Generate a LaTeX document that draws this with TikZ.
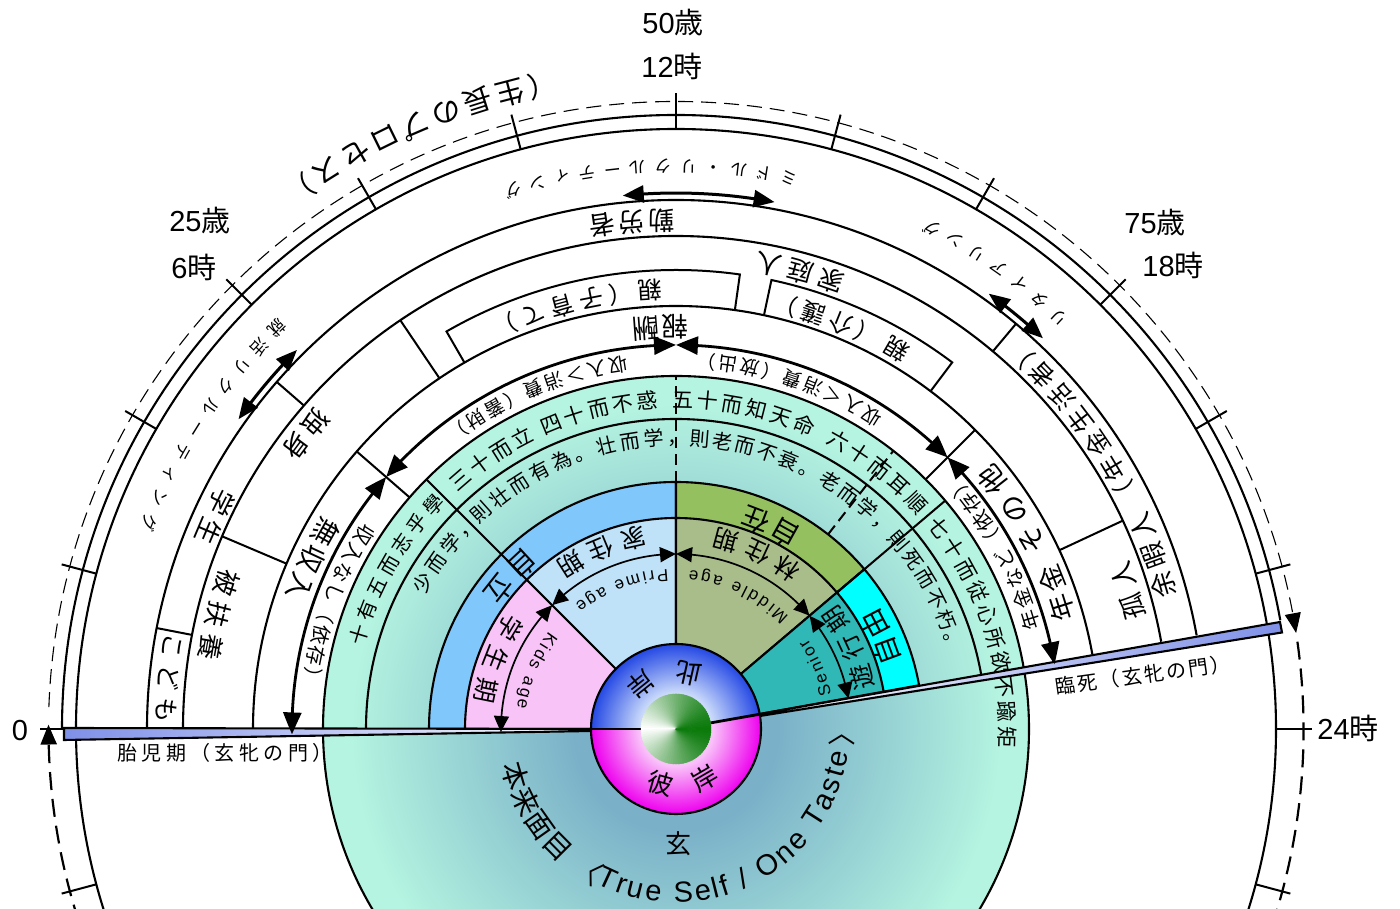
\documentclass[tikz,border=0pt]{standalone}
\usepackage{fontspec}
\usetikzlibrary{arrows.meta,bending}
\setmainfont{Liberation Sans}
\newfontfamily\la{Liberation Sans}
\newfontfamily\cj{Noto Sans CJK JP}
\definecolor{tealA}{HTML}{7AB0C8}
\definecolor{tealB}{HTML}{B4F4E0}
\definecolor{pinkS}{HTML}{F8C4F8}
\definecolor{skyS}{HTML}{BFE2F8}
\definecolor{oliveS}{HTML}{A9BD8B}
\definecolor{tealS}{HTML}{2FB8B6}
\definecolor{blueR}{HTML}{80C8FB}
\definecolor{greenR}{HTML}{95C05F}
\definecolor{cyanR}{HTML}{00FFFF}
\definecolor{gateB}{HTML}{7F90E8}
\definecolor{discB}{HTML}{2448E4}
\definecolor{discBi}{HTML}{C8D8FA}
\definecolor{discM}{HTML}{EE00EE}
\definecolor{discMi}{HTML}{F9C0F9}
\definecolor{ballG}{HTML}{0A7A0A}
\pgfdeclareradialshading{tealdisc}{\pgfpointorigin}{color(0bp)=(tealA); color(7bp)=(tealA); color(23bp)=(tealB); color(50bp)=(tealB)}
\pgfdeclareradialshading{blueball}{\pgfpointorigin}{color(0bp)=(white); color(11bp)=(discBi); color(25bp)=(discB); color(50bp)=(discB)}
\pgfdeclareradialshading{magball}{\pgfpointorigin}{color(0bp)=(white); color(11bp)=(discMi); color(25bp)=(discM); color(50bp)=(discM)}
\makeatletter
\newcounter{gl}
\def\spcmark{~}
% family, size, radius, centre angle, tracking, direction, text
\newcommand\arcg[7]{%
  \@tempdima=0pt
  \@tfor\ch:=#7\do{\setbox0\hbox{\let\selectfont\pgf@selectfontorig #1\fontsize{#2}{#2}\selectfont\ch}\advance\@tempdima by\wd0 \advance\@tempdima by #5pt }%
  \advance\@tempdima by -#5pt
  \edef\totw{\strip@pt\@tempdima}%
  \pgfmathsetmacro\curang{#4-(#6)*(\totw/2)/#3*57.29578}%
  \pgfmathsetmacro\thgt{.8*#2}%
  \pgfmathsetmacro\tdep{.2*#2}%
  \@tfor\ch:=#7\do{%
    \setbox0\hbox{\let\selectfont\pgf@selectfontorig #1\fontsize{#2}{#2}\selectfont\ch}%
    \edef\chw{\strip@pt\wd0}%
    \pgfmathsetmacro\midang{\curang+(#6)*(\chw/2)/#3*57.29578}%
    \pgfmathsetmacro\rotang{\midang+(#6)*90}%
    \stepcounter{gl}%
    \ifx\ch\spcmark\else
    \node[gly,font=#1\fontsize{#2}{#2}\selectfont,text height=\thgt pt,text depth=\tdep pt,rotate=\rotang] (g\arabic{gl}) at (\midang:#3) {\ch};%
    \fi
    \pgfmathsetmacro\curang{\curang+(#6)*(\chw+#5)/#3*57.29578}%
  }%
}
\makeatother
\tikzset{
  gly/.style={inner sep=0pt,outer sep=0pt,anchor=center,text=black},
  ring/.style={line width=2.1pt,black},
  sep/.style={line width=2pt,black},
  arrS/.style={line width=1.7pt,arrows={Triangle[length=16pt,width=15pt,bend]-Triangle[length=16pt,width=15pt,bend]}},
  arrL/.style={line width=2.8pt,arrows={Triangle[length=22pt,width=18pt,bend]-Triangle[length=22pt,width=18pt,bend]}},
  arrD/.style={line width=3pt,arrows={Triangle[length=21pt,width=17pt,bend]-Triangle[length=21pt,width=17pt,bend]}},
  lab/.style={inner sep=0pt,font=\fontsize{29}{29}\selectfont},
}
\begin{document}
\begin{tikzpicture}[x=1pt,y=1pt]
\useasboundingbox (0,0) rectangle (1400,909);
\clip (0,0) rectangle (1400,909);
\fill[white] (0,0) rectangle (1400,909);
\begin{scope}[shift={(676,180)}]
% dashed cycle
\draw[line width=1.1pt,dash pattern=on 15pt off 8pt,-{Triangle[length=20pt,width=16pt,bend]}] (178:627.5) arc[start angle=178,end angle=8.8,radius=627.5];
\draw[line width=2.2pt,dash pattern=on 18pt off 9pt,-{Triangle[length=20pt,width=16pt,bend]}] (8:627.5) arc[start angle=8,end angle=-180.4,radius=627.5];
% outer rings and ticks
\draw[ring] (0,0) circle (600);
\draw[ring] (180:614) arc[start angle=180,end angle=10.2,radius=614];
\foreach \a in {0,15,...,345}{\draw[sep] (\a:600) -- (\a:636);}
\draw[ring] (180:529) arc[start angle=180,end angle=10.2,radius=529];
\draw[ring] (180:493) arc[start angle=180,end angle=10.2,radius=493];
\draw[ring] (180:423) arc[start angle=180,end angle=10.2,radius=423];
\foreach \a in {169,139,50}{\draw[sep] (\a:493) -- (\a:529);}
\foreach \a in {157,124,25}{\draw[sep] (\a:423) -- (\a:493);}
\foreach \a in {139,45}{\draw[sep] (\a:353) -- (\a:423);}
% parent boxes
\draw[sep] (120:423) -- (120:459) arc[start angle=120,end angle=82,radius=459] -- (82:423);
\draw[sep] (78:423) -- (78:459) arc[start angle=78,end angle=53,radius=459] -- (53:423);
% teal disc
\shade[shading=tealdisc] (0,0) circle (353);
\draw[ring] (0,0) circle (353);
\draw[ring] (180:310) arc[start angle=180,end angle=10.2,radius=310];
% coloured rings
\filldraw[fill=blueR,draw=black,line width=2.1pt] (0,0) -- (180:247) arc[start angle=180,end angle=90,radius=247] -- cycle;
\filldraw[fill=greenR,draw=black,line width=2.1pt] (0,0) -- (90:247) arc[start angle=90,end angle=40.3,radius=247] -- cycle;
\filldraw[fill=cyanR,draw=black,line width=2.1pt] (0,0) -- (40.3:247) arc[start angle=40.3,end angle=10.2,radius=247] -- cycle;
\filldraw[fill=pinkS,draw=black,line width=2.1pt] (0,0) -- (180:211) arc[start angle=180,end angle=135,radius=211] -- cycle;
\filldraw[fill=skyS,draw=black,line width=2.1pt] (0,0) -- (135:211) arc[start angle=135,end angle=90,radius=211] -- cycle;
\filldraw[fill=oliveS,draw=black,line width=2.1pt] (0,0) -- (90:211) arc[start angle=90,end angle=40.3,radius=211] -- cycle;
\filldraw[fill=tealS,draw=black,line width=2.1pt] (0,0) -- (40.3:211) arc[start angle=40.3,end angle=10.2,radius=211] -- cycle;
% radial lines
\draw[sep] (135:211) -- (135:353);
\draw[sep] (40.3:211) -- (40.3:353);
\draw[sep,dash pattern=on 11pt off 6pt] (90:247) -- (90:353);
\draw[sep,dash pattern=on 11pt off 6pt] (52:247) -- (52:353);
% gates
\shade[left color=gateB,right color=white] (-612,1) -- (-612,-11) -- (-85,-1) -- (-85,0) -- cycle;
\draw[line width=2.1pt,line join=miter] (-85,0) -- (-612,1) -- (-612,-11) -- (-85,-2);
\shade[left color=white,right color=gateB] (84,15) -- (604,107) -- (606,96.5) -- (84,13) -- cycle;
\draw[line width=2.1pt,line join=miter] (84,15) -- (604,107) -- (606,96.5) -- (84,13);
% arrows
\draw[arrS] (135:175) arc[start angle=135,end angle=181,radius=175];
\draw[arrS] (135:175) arc[start angle=135,end angle=90,radius=175];
\draw[arrS] (40.3:175) arc[start angle=40.3,end angle=90,radius=175];
\draw[arrS] (40.3:175) arc[start angle=40.3,end angle=10,radius=175];
\draw[arrL] (139:384) arc[start angle=139,end angle=180.8,radius=384];
\draw[arrL] (139:384) arc[start angle=139,end angle=90,radius=384];
\draw[arrL] (45:384) arc[start angle=45,end angle=90,radius=384];
\draw[arrL] (45:384) arc[start angle=45,end angle=9.7,radius=384];
\draw[arrD] (95.7:536) arc[start angle=95.7,end angle=79.4,radius=536];
\draw[arrD] (135:536) arc[start angle=135,end angle=144.7,radius=536];
\draw[arrD] (54.3:536) arc[start angle=54.3,end angle=46.8,radius=536];
% central disc
\begin{scope}
\clip (0,0) -- (180:90) arc[start angle=180,end angle=10,radius=90] -- cycle;
\shade[shading=blueball] (0,0) circle (85);
\end{scope}
\begin{scope}
\clip (0,0) -- (10:90) arc[start angle=10,end angle=-180,radius=90] -- cycle;
\shade[shading=magball] (0,0) circle (85);
\end{scope}
\draw[ring] (0,0) circle (85);
\draw[line width=2.8pt] (180:85) -- (180:35);
\draw[line width=2.8pt] (10:85) -- (10:35);
\foreach \a in {0,4,...,356}{%
  \pgfmathsetmacro\td{min(\a,360-\a)/180}%
  \pgfmathsetmacro\tt{100*pow(\td,1.25)}%
  \filldraw[color=white!\tt!ballG,line width=.5pt] (0,0) -- (\a-2.2:35) arc[start angle=\a-2.2,end angle=\a+2.2,radius=35] -- cycle;
}
% centre texts
\arcg{\cj}{26}{59}{103}{27}{1}{此岸}
\arcg{\cj}{26}{59}{277.5}{21}{1}{彼岸}
\node[gly,font=\cj\fontsize{26}{26}\selectfont] (xuan) at (2,-115) {玄};
\arcg{\cj}{28}{228}{137.3}{7}{1}{自立}
\arcg{\cj}{28}{226}{65}{4}{1}{自在}
\arcg{\cj}{28}{227}{24}{2}{1}{自由}
\arcg{\cj}{25}{197}{112.6}{9}{1}{家住期}
\arcg{\cj}{25}{196}{158.6}{9}{1}{学生期}
\arcg{\cj}{25}{197}{65.2}{9}{1}{林住期}
\arcg{\cj}{25}{195}{25}{7}{1}{遊行期}
\arcg{\la}{17}{155}{111}{2.6}{1}{Prime~age}
\arcg{\la}{17}{155}{157.5}{2.2}{1}{Kids~age}
\arcg{\la}{17}{154}{65}{2.8}{1}{Middle~age}
\arcg{\la}{17}{154}{23.5}{2}{1}{Senior}
% analects band
\arcg{\cj}{20}{329}{150.3}{5}{-1}{十有五而志乎學}
\arcg{\cj}{21}{328}{124.3}{3.8}{-1}{三十而立}
\arcg{\cj}{21}{328}{103.6}{3.8}{-1}{四十而不惑}
\arcg{\cj}{21}{328}{78}{3.8}{-1}{五十而知天命}
\arcg{\cj}{21}{329}{51.9}{3.8}{-1}{六十而耳順}
\arcg{\cj}{21}{330}{18}{3.8}{-1}{七十而従心所欲不踰矩}
\arcg{\cj}{20}{290}{143}{3.8}{-1}{少而学，}
\arcg{\cj}{20}{290}{110.8}{3.8}{-1}{則壮而有為。壮而学，}
\arcg{\cj}{20}{290}{51.4}{2.9}{-1}{則老而不衰。老而学，則死而不朽。}
% income band
\arcg{\cj}{20}{369}{160}{2}{1}{収入なし（依存）}
\arcg{\cj}{19}{370}{112.7}{3}{1}{収入＞消費（蓄財）}
\arcg{\cj}{19}{370}{71.6}{3}{1}{収入＜消費（放出）}
\arcg{\cj}{20}{372}{29}{2}{1}{年金など（依存）}
\arcg{\cj}{27}{404}{155}{3}{1}{無収入}
\arcg{\cj}{27}{404}{92.2}{3}{1}{報酬}
\arcg{\cj}{28}{405}{33}{8}{1}{その他}
\arcg{\cj}{27}{407}{19.6}{3}{1}{年金}
\arcg{\cj}{24}{441}{93.4}{0}{1}{親}
\arcg{\cj}{24}{440}{105.1}{6.3}{1}{（子育て）}
\arcg{\cj}{24}{441}{59.8}{0}{1}{親}
\arcg{\cj}{24}{440}{69.8}{5}{1}{（介護）}
\arcg{\cj}{26}{475}{141.5}{4}{1}{独身}
\arcg{\cj}{26}{474}{166}{7}{1}{被扶養}
\arcg{\cj}{26}{476}{74.8}{6}{1}{家庭人}
\arcg{\cj}{26}{475}{17}{7}{1}{孤人}
\arcg{\cj}{26}{511}{95}{4}{1}{勤労者}
\arcg{\cj}{26}{510}{155.3}{6}{1}{学生}
\arcg{\cj}{25}{512}{174.3}{7}{1}{こども}
\arcg{\cj}{26}{510}{20}{5}{1}{余暇人}
\arcg{\cj}{25}{511}{37.4}{4.5}{1}{（年金生活者）}
\arcg{\cj}{17}{564}{92.6}{8.4}{1}{ミドル・リクルーティング}
\arcg{\cj}{17}{567}{146.7}{9.1}{1}{就活リクルーティング}
\arcg{\cj}{17}{564}{55}{9}{1}{リタイアリング}
\arcg{\cj}{29}{660}{113.3}{4.4}{1}{（生長のプロセス）}
% bottom text
\arcg{\cj}{28}{169}{210.5}{0}{1}{本来面目}
\arcg{\cj}{28}{168}{238}{0}{1}{〈}
\arcg{\la}{29}{165}{297.3}{2}{1}{True~Self~/~One~Taste}
\arcg{\cj}{28}{168}{359}{0}{1}{〉}
\end{scope}
% free labels
\node[lab] (n50) at (673,886) {\la 50\cj 歳};
\node[lab] (n12) at (672,843) {\la 12\cj 時};
\node[lab] (n25) at (200,688) {\la 25\cj 歳};
\node[lab] (n6) at (194,642) {\la 6\cj 時};
\node[lab] (n75) at (1155,686) {\la 75\cj 歳};
\node[lab] (n18) at (1173,644) {\la 18\cj 時};
\node[lab] (n0) at (20,178) {\la 0};
\node[lab] (n24) at (1348,181) {\la 24\cj 時};
\node[inner sep=0pt,font=\cj\fontsize{20}{20}\selectfont\addfontfeature{LetterSpace=22}] (fet) at (225,156) {胎児期（玄牝の門）};
\node[inner sep=0pt,rotate=8,font=\cj\fontsize{20}{20}\selectfont\addfontfeature{LetterSpace=12}] (die) at (1143,234) {臨死（玄牝の門）};
\end{tikzpicture}
\end{document}
